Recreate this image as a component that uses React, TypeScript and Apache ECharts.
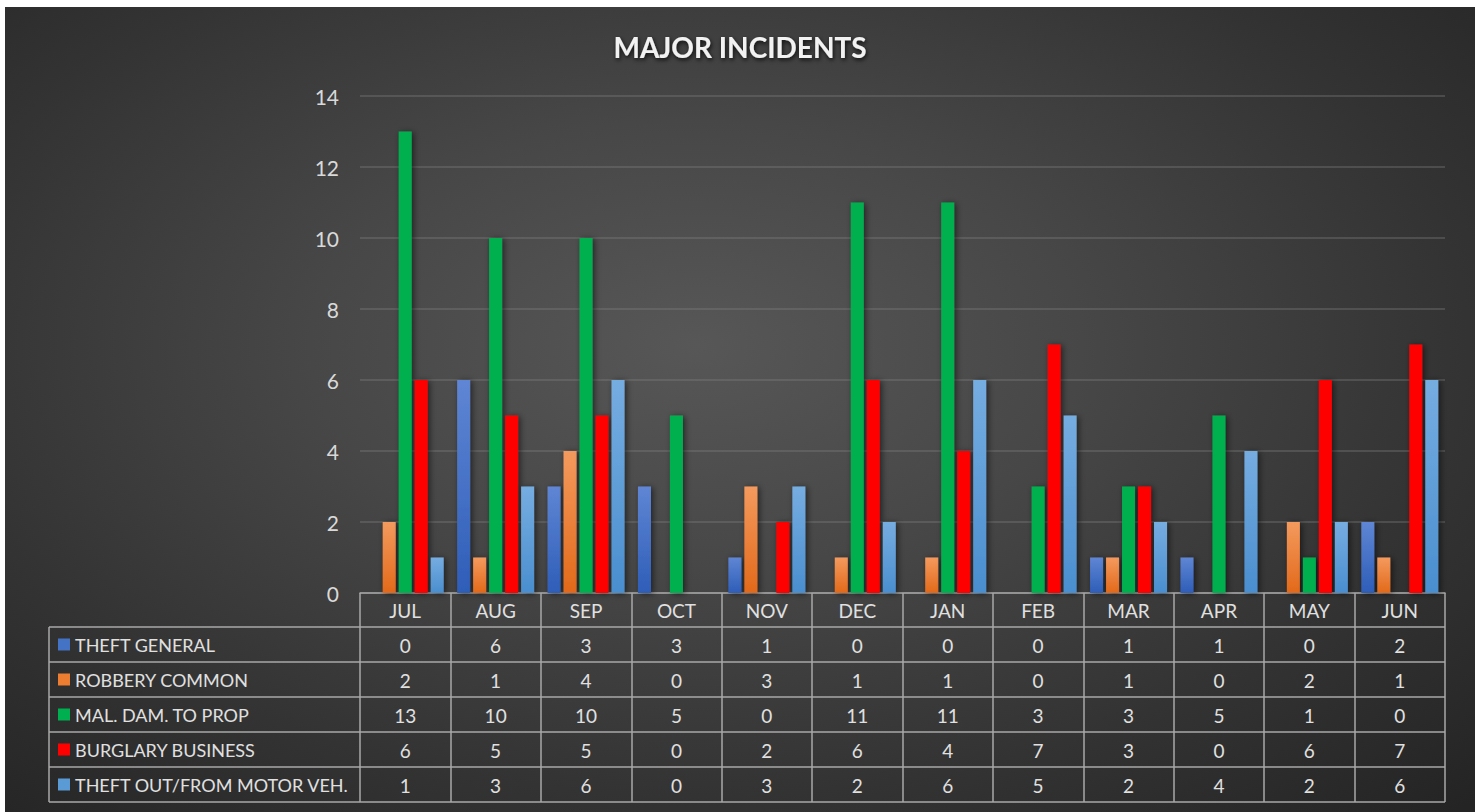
import React, { useEffect, useRef } from "react";
import * as echarts from "echarts";

const months = ["JUL", "AUG", "SEP", "OCT", "NOV", "DEC", "JAN", "FEB", "MAR", "APR", "MAY", "JUN"];
const seriesNames = [
  "THEFT GENERAL",
  "ROBBERY COMMON",
  "MAL. DAM. TO PROP",
  "BURGLARY BUSINESS",
  "THEFT OUT/FROM MOTOR VEH.",
];
const theftGeneral = [0, 6, 3, 3, 1, 0, 0, 0, 1, 1, 0, 2];
const robberyCommon = [2, 1, 4, 0, 3, 1, 1, 0, 1, 0, 2, 1];
const malDamToProp = [13, 10, 10, 5, 0, 11, 11, 3, 3, 5, 1, 0];
const burglaryBusiness = [6, 5, 5, 0, 2, 6, 4, 7, 3, 0, 6, 7];
const theftOutFromMotorVeh = [1, 3, 6, 0, 3, 2, 6, 5, 2, 4, 2, 6];
const yTicks = { min: 0, max: 14, interval: 2 };

const allValues = [theftGeneral, robberyCommon, malDamToProp, burglaryBusiness, theftOutFromMotorVeh];
const solidColors = ["#4472C4", "#ED7D31", "#00B050", "#FF0000", "#5B9BD5"];
const gradColors: ([string, string] | null)[] = [
  ["#5f86d4", "#2e5db8"],
  ["#f49a5e", "#e2691a"],
  null,
  null,
  ["#76ade1", "#4a8ecf"],
];

const W = 1470;
const H = 805;
const GRID_LEFT = 355;
const GRID_RIGHT = 30;
const GRID_TOP = 89;
const GRID_BOTTOM = 219;
const HEADER_H = 34;
const ROW_H = 35;
const TABLE_LEFT = 44;
const LINE_COLOR = "#a9a9a9";
const FONT = "Lato, 'Open Sans', sans-serif";

export default function App() {
  const ref = useRef<HTMLDivElement>(null);
  useEffect(() => {
    if (!ref.current) return;
    const chart = echarts.init(ref.current, undefined, { renderer: "svg" });
    const axisY = H - GRID_BOTTOM;
    const tableTop = axisY + HEADER_H;
    const tableRight = W - GRID_RIGHT;
    const tableBottom = tableTop + ROW_H * seriesNames.length;

    const hLines: any[] = [];
    for (let i = 0; i <= seriesNames.length; i++) {
      const y = tableTop + ROW_H * i;
      hLines.push({
        type: "line",
        shape: { x1: TABLE_LEFT, y1: y, x2: tableRight, y2: y },
        style: { stroke: LINE_COLOR, lineWidth: 1.5 },
        silent: true,
      });
    }
    hLines.push({
      type: "line",
      shape: { x1: TABLE_LEFT, y1: tableTop, x2: TABLE_LEFT, y2: tableBottom },
      style: { stroke: LINE_COLOR, lineWidth: 1.5 },
      silent: true,
    });

    const series = seriesNames.map((name, i) => {
      const g = gradColors[i];
      const color = g
        ? new echarts.graphic.LinearGradient(0, 0, 0, 1, [
            { offset: 0, color: g[0] },
            { offset: 1, color: g[1] },
          ])
        : solidColors[i];
      return {
        name,
        type: "bar",
        data: allValues[i],
        barWidth: 13,
        barGap: "23%",
        itemStyle: {
          color,
          shadowColor: "rgba(0,0,0,0.55)",
          shadowBlur: 6,
          shadowOffsetX: 2,
          shadowOffsetY: 1,
        },
      };
    });

    chart.setOption({
      animation: false,
      backgroundColor: "transparent",
      title: {
        text: "MAJOR INCIDENTS",
        left: "center",
        top: 21,
        textStyle: {
          fontFamily: FONT,
          fontSize: 28,
          fontWeight: "bold",
          color: "#f2f2f2",
          textShadowColor: "rgba(0,0,0,0.8)",
          textShadowBlur: 4,
          textShadowOffsetX: 1,
          textShadowOffsetY: 2,
        },
      },
      legend: {
        orient: "vertical",
        left: 53,
        top: tableTop + 7.5,
        padding: 0,
        itemWidth: 12,
        itemHeight: 12,
        itemGap: 15,
        icon: "rect",
        selectedMode: false,
        textStyle: { fontFamily: FONT, fontSize: 18, color: "#e0e0e0", lineHeight: 20 },
        data: seriesNames.map((n, i) => ({ name: n, itemStyle: { color: solidColors[i] } })),
      },
      grid: { left: GRID_LEFT, right: GRID_RIGHT, top: GRID_TOP, bottom: GRID_BOTTOM, containLabel: false },
      xAxis: {
        type: "category",
        data: months,
        axisLine: { show: true, lineStyle: { color: LINE_COLOR, width: 1.5 } },
        axisTick: {
          show: true,
          interval: 0,
          alignWithLabel: false,
          length: HEADER_H + ROW_H * seriesNames.length,
          lineStyle: { color: LINE_COLOR, width: 1.5 },
        },
        axisLabel: {
          interval: 0,
          margin: 0,
          fontFamily: FONT,
          fontSize: 19,
          color: "#e0e0e0",
          lineHeight: ROW_H,
          formatter: (v: string, idx: number) =>
            [v, ...allValues.map((arr) => String(arr[idx]))].join("\n"),
        },
      },
      yAxis: {
        type: "value",
        min: yTicks.min,
        max: yTicks.max,
        interval: yTicks.interval,
        axisLine: { show: false },
        axisTick: { show: false },
        axisLabel: { fontFamily: FONT, fontSize: 21, color: "#d9d9d9", margin: 21 },
        splitLine: { lineStyle: { color: "rgba(130,130,130,0.45)", width: 1.5 } },
      },
      graphic: hLines,
      series,
    });
    return () => chart.dispose();
  }, []);

  return (
    <div
      style={{
        position: "absolute",
        left: 5,
        top: 7,
        width: W,
        height: H,
        background:
          "radial-gradient(ellipse 75% 80% at 47% 42%, #575757 0%, #474747 35%, #333333 70%, #242424 100%)",
      }}
    >
      <div ref={ref} style={{ width: W, height: H }} />
    </div>
  );
}
